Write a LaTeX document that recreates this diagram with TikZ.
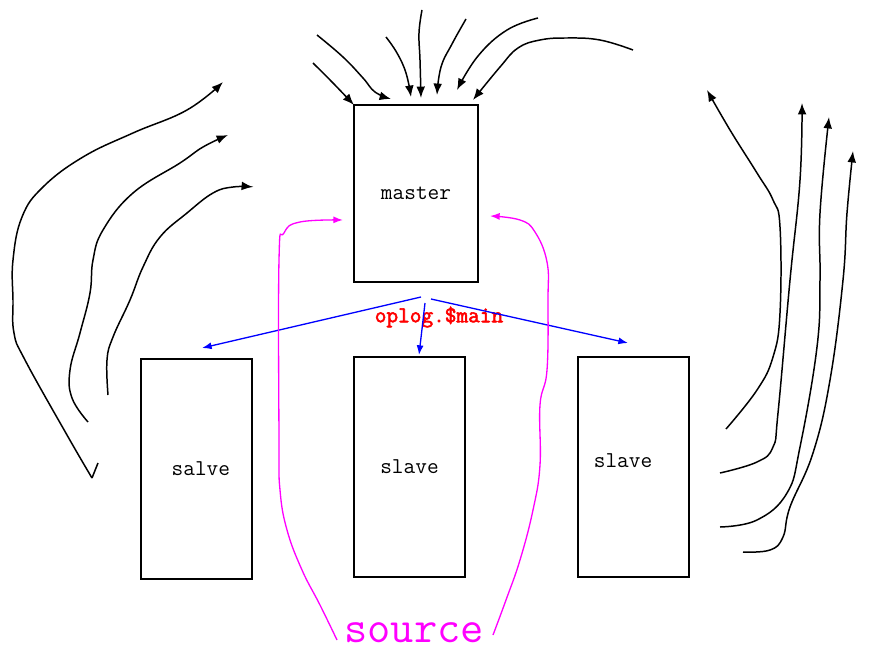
\documentclass[tikz,border=0pt]{standalone}
\usepackage{fontspec}
\newfontfamily\heavytt[AutoFakeBold=2.5]{Latin Modern Mono}
\usetikzlibrary{arrows.meta}
\definecolor{srcmag}{RGB}{255,0,255}
\definecolor{opred}{RGB}{255,0,0}
\definecolor{opblue}{RGB}{0,0,255}
\def\fl[#1]#2{\draw[#1] plot[smooth,tension=0.7] coordinates {#2};}

\begin{document}
\begin{tikzpicture}[x=0.02cm,y=-0.02cm,
  box/.style={draw,line width=0.8pt,inner sep=0pt,font=\ttfamily\fontsize{12.9}{14}\selectfont},
  curve/.style={line width=0.85pt,-{Latex[length=6.5pt,width=5pt]}},
  oplogarrow/.style={opblue,line width=0.75pt,-{Latex[length=5.5pt,width=4pt]}},
  srcarrow/.style={srcmag,line width=0.75pt,-{Latex[length=5.5pt,width=4pt]}}]
	%%%%% START %%%%%
	\useasboundingbox (0,0) rectangle (875,669);
	
	\node[box,minimum width=2.48cm,minimum height=3.54cm] (master) at (416,193.5) {master};
	\node[box,minimum width=2.22cm,minimum height=4.4cm] (salve) at (196.5,469) {\raisebox{-3pt}{\hspace*{5pt}salve}};
	\node[box,minimum width=2.22cm,minimum height=4.4cm] (slaveA) at (409.5,467) {slave};
	\node[box,minimum width=2.22cm,minimum height=4.4cm] (slaveB) at (633.5,467) {};
	\node[font=\ttfamily\fontsize{12.9}{14}\selectfont] (slaveBtext) at (623,461) {slave};
	
	\node[opred,font=\heavytt\bfseries\fontsize{12.9}{14}\selectfont] (oplog) at (439,317) {oplog.\$main};
	\node[srcmag,font=\ttfamily\fontsize{25.7}{28}\selectfont] (source) at (414,633) {source};
	
	% oplog to the slaves
	\draw[oplogarrow] (421,297) -- (202,348);
	\draw[oplogarrow] (425,303) -- (419,355);
	\draw[oplogarrow] (431,299) -- (628,343);
	
	% source to master
	\fl[srcarrow]{(337,640) (320,605) (302,570) (287,530) (280,490) (279,440) (279,260) (284,233) (300,222) (343,220)}
	\fl[srcarrow]{(493,635) (506,600) (520,560) (533,510) (540,465) (540,405) (547,370) (548,300) (547,262) (535,232) (520,220) (490,216)}
	
	% into master
	\fl[curve]{(313,63) (333,83) (354,105)}
	\fl[curve]{(317,35) (343,57) (363,78) (375,92) (391,99)}
	\fl[curve]{(386,37) (397,53) (406,73) (411,97)}
	\fl[curve]{(422,10) (419,33) (420,60) (421,98)}
	\fl[curve]{(466,19) (452,44) (441,67) (437,95)}
	\fl[curve]{(538,18) (507,30) (478,56) (457,90)}
	\fl[curve]{(633,50) (600,40) (567,38) (540,40) (518,48) (500,67) (473,100)}
	
	% left side
	\draw[line width=0.85pt] (98,463) -- (92,478);
	\fl[curve]{(92,478) (67,435) (25,360) (14,333) (13,300) (13,260) (22,217) (43,187) (83,157) (133,133) (187,110) (223,82)}
	\fl[curve]{(88,422) (72,398) (70,370) (80,333) (90,293) (93,260) (103,230) (133,193) (180,163) (203,147) (228,135)}
	\fl[curve]{(108,395) (107,360) (113,337) (130,300) (143,267) (160,237) (187,213) (213,193) (233,187) (253,187)}
	
	% right side
	\fl[curve]{(726,429) (757,390) (773,357) (780,313) (780,227) (773,200) (757,173) (730,130) (707,90)}
	\fl[curve]{(720,473) (757,462) (773,447) (778,413) (790,280) (800,180) (802,103)}
	\fl[curve]{(720,527) (757,520) (787,493) (800,447) (817,347) (820,280) (820,213) (829,117)}
	\fl[curve]{(743,552) (770,550) (783,537) (790,507) (813,453) (830,380) (843,280) (847,213) (853,151)}
	%%%%% END %%%%%
\end{tikzpicture}
\end{document}
